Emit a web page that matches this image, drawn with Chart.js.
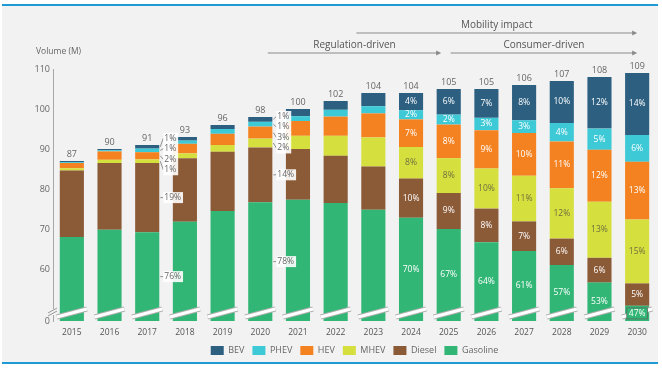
<!DOCTYPE html>
<html>
<head>
<meta charset="utf-8">
<script src="https://cdn.jsdelivr.net/npm/chart.js@4.4.1/dist/chart.umd.min.js"></script>
<style>
  html, body { margin: 0; padding: 0; background: #fff; }
  #wrap { position: relative; width: 662px; height: 369px; }
  #panel {
    position: absolute; left: 2px; top: 4px; width: 656px; height: 360px;
    box-sizing: border-box; background: #f2f2f2;
    border-top: 2px solid #1e9ad6; border-bottom: 2px solid #1e9ad6;
  }
  canvas { position: absolute; left: 0; top: 0; }
</style>
</head>
<body>
<div id="wrap">
  <div id="panel"></div>
  <canvas id="chart" width="662" height="369"></canvas>
</div>
<script>
// Powertrain mix, volume in millions
const years = ["2015", "2016", "2017", "2018", "2019", "2020", "2021", "2022",
  "2023", "2024", "2025", "2026", "2027", "2028", "2029", "2030"];
const totals = [87, 90, 91, 93, 96, 98, 100, 102, 104, 104, 105, 105, 106, 107, 108, 109];

const bev = [0.3, 0.3, 0.9, 0.9, 1.0, 1.2, 1.8, 2.2, 3.3, 4.3, 6.4, 7.2, 8.8, 10.5, 12.9, 15.5];
const phev = [0.2, 0.3, 0.9, 0.8, 1.2, 1.2, 1.2, 1.7, 1.8, 2.3, 2.5, 3.1, 3.2, 4.6, 5.3, 6.7];
const hev = [1.3, 2.1, 1.8, 2.4, 2.8, 3.0, 3.7, 4.8, 6.0, 6.9, 8.4, 9.6, 10.7, 11.7, 13.0, 14.4];
const mhev = [0.6, 0.8, 0.9, 1.2, 1.7, 2.2, 3.3, 5.0, 7.3, 7.9, 8.7, 10.0, 11.4, 12.6, 14.0, 16.0];
const diesel = [16.6, 16.7, 17.3, 15.9, 14.8, 13.7, 12.7, 11.8, 10.8, 9.8, 9.0, 8.4, 7.4, 6.6, 6.2, 5.6];
const gasoline = [68.0, 69.8, 69.2, 71.8, 74.5, 76.7, 77.3, 76.5, 74.8, 72.8, 70.0, 66.7, 64.5, 61.0, 56.6, 50.8];

// share labels (%) printed on the chart, null = not printed
const shareBev = [null, null, 1, null, null, 1, null, null, null, 4, 6, 7, 8, 10, 12, 14];
const sharePhev = [null, null, 1, null, null, 1, null, null, null, 2, 2, 3, 3, 4, 5, 6];
const shareHev = [null, null, 2, null, null, 3, null, null, null, 7, 8, 9, 10, 11, 12, 13];
const shareMhev = [null, null, 1, null, null, 2, null, null, null, 8, 8, 10, 11, 12, 13, 15];
const shareDiesel = [null, null, 19, null, null, 14, null, null, null, 10, 9, 8, 7, 6, 6, 5];
const shareGasoline = [null, null, 76, null, null, 78, null, null, null, 70, 67, 64, 61, 57, 53, 47];
const calloutYears = ["2017", "2020"];

// broken y axis: everything under 47 is cut, bottom shown as 0
const axisBreakValue = 47;
const yTicks = [47, 60, 70, 80, 90, 100, 110];

const phases = [
  { text: "Mobility impact", from: 7.55, to: 15.0, row: 0 },
  { text: "Regulation-driven", from: 5.2, to: 9.8, row: 1 },
  { text: "Consumer-driven", from: 10.05, to: 15.0, row: 1 },
];

const FONT = "'Open Sans', sans-serif";
Chart.defaults.font.family = FONT;

// bottom to top
const series = [
  { label: "Gasoline", data: gasoline, shares: shareGasoline, color: "#31b675", text: "#ffffff" },
  { label: "Diesel", data: diesel, shares: shareDiesel, color: "#8b5a37", text: "#ffffff" },
  { label: "MHEV", data: mhev, shares: shareMhev, color: "#d5df3d", text: "#6f7040" },
  { label: "HEV", data: hev, shares: shareHev, color: "#f58220", text: "#ffffff" },
  { label: "PHEV", data: phev, shares: sharePhev, color: "#3ec9d6", text: "#ffffff" },
  { label: "BEV", data: bev, shares: shareBev, color: "#2c5f80", text: "#ffffff" },
];

const decorations = {
  id: "decorations",
  afterDatasetsDraw(chart) {
    const { ctx, chartArea } = chart;
    const metas = series.map((s, d) => chart.getDatasetMeta(d));
    const bottom = chartArea.bottom;
    ctx.save();

    // break marks across bars
    metas[0].data.forEach((el) => {
      const l = el.x - el.width / 2 - 3;
      const r = el.x + el.width / 2 + 3;
      ctx.beginPath();
      ctx.moveTo(l, bottom - 4);
      ctx.lineTo(r, bottom - 12);
      ctx.strokeStyle = "#b0b0b0";
      ctx.lineWidth = 5;
      ctx.stroke();
      ctx.strokeStyle = "#ffffff";
      ctx.lineWidth = 3;
      ctx.stroke();
    });

    // totals
    ctx.font = "9px " + FONT;
    ctx.textAlign = "center";
    ctx.textBaseline = "middle";
    ctx.fillStyle = "#666";
    metas[metas.length - 1].data.forEach((el, i) => {
      ctx.fillText(String(totals[i]), el.x, el.y - 6.5);
    });

    // share labels
    ctx.font = "8.5px " + FONT;
    years.forEach((yr, i) => {
      const callout = calloutYears.includes(yr);
      if (!callout) {
        series.forEach((s, d) => {
          if (s.shares[i] == null) return;
          const el = metas[d].data[i];
          const cy = (el.y + Math.min(el.base, bottom)) / 2;
          const txt = s.shares[i] + "%";
          if (el.base > bottom && bottom - el.y < 18) {
            // segment mostly cut by the axis break: label gets its own patch
            const w = ctx.measureText(txt).width;
            ctx.fillStyle = s.color;
            ctx.fillRect(el.x - w / 2 - 2, cy - 5.5, w + 4, 11);
            ctx.strokeStyle = "#5a6a60";
            ctx.lineWidth = 0.8;
            ctx.strokeRect(el.x - w / 2 - 2, cy - 5.5, w + 4, 11);
          }
          ctx.textAlign = "center";
          ctx.fillStyle = s.text;
          ctx.fillText(txt, el.x, cy);
        });
        return;
      }
      const first = metas[0].data[i];
      const right = first.x + first.width / 2;
      ctx.textAlign = "left";
      const drawTag = (txt, segY, labY) => {
        ctx.beginPath();
        ctx.moveTo(right + 1, segY);
        ctx.lineTo(right + 4, labY);
        ctx.strokeStyle = "#777";
        ctx.lineWidth = 0.8;
        ctx.stroke();
        const w = ctx.measureText(txt).width;
        ctx.fillStyle = "rgba(255,255,255,0.9)";
        ctx.fillRect(right + 4, labY - 5.5, w + 3, 11);
        ctx.fillStyle = "#666";
        ctx.fillText(txt, right + 5, labY);
      };
      // gasoline + diesel: straight next to the segment
      [0, 1].forEach((d) => {
        const el = metas[d].data[i];
        const cy = (el.y + Math.min(el.base, bottom)) / 2;
        drawTag(series[d].shares[i] + "%", cy, cy);
      });
      // small segments fanned out
      const groupTop = metas[5].data[i].y;
      const groupBottom = metas[2].data[i].base;
      const mid = (groupTop + groupBottom) / 2;
      [5, 4, 3, 2].forEach((d, k) => {
        const el = metas[d].data[i];
        const cy = (el.y + el.base) / 2;
        drawTag(series[d].shares[i] + "%", cy, mid + (k - 1.5) * 10.5);
      });
    });
    ctx.restore();
  },
  afterDraw(chart) {
    const { ctx, chartArea, scales } = chart;
    const x = scales.x;
    ctx.save();

    // y axis break
    const ax = chartArea.left;
    const b = chartArea.bottom;
    ctx.fillStyle = "#f2f2f2";
    ctx.fillRect(ax - 2, b - 12, 4, 6);
    ctx.strokeStyle = "#999";
    ctx.lineWidth = 1;
    ctx.beginPath();
    ctx.moveTo(ax - 5, b - 5); ctx.lineTo(ax + 4, b - 10);
    ctx.moveTo(ax - 5, b - 8); ctx.lineTo(ax + 4, b - 13);
    ctx.stroke();

    // y title
    ctx.font = "8.5px " + FONT;
    ctx.fillStyle = "#666";
    ctx.textAlign = "left";
    ctx.textBaseline = "middle";
    ctx.fillText("Volume (M)", ax - 17, chartArea.top - 17);

    // phase arrows
    ctx.font = "10px " + FONT;
    ctx.textAlign = "center";
    phases.forEach((p) => {
      const x1 = x.getPixelForValue(p.from);
      const x2 = x.getPixelForValue(p.to);
      const ly = chartArea.top - (p.row === 0 ? 36 : 16);
      ctx.strokeStyle = "#8a8a8a";
      ctx.lineWidth = 1.2;
      ctx.beginPath();
      ctx.moveTo(x1, ly);
      ctx.lineTo(x2 - 4, ly);
      ctx.stroke();
      ctx.fillStyle = "#8a8a8a";
      ctx.beginPath();
      ctx.moveTo(x2, ly);
      ctx.lineTo(x2 - 5, ly - 2.5);
      ctx.lineTo(x2 - 5, ly + 2.5);
      ctx.closePath();
      ctx.fill();
      ctx.fillStyle = "#555";
      ctx.fillText(p.text, (x1 + x2) / 2, ly - 7.5);
    });
    ctx.restore();
  },
};

new Chart(document.getElementById("chart"), {
  type: "bar",
  data: {
    labels: years,
    datasets: series.map((s) => ({
      label: s.label,
      data: s.data,
      backgroundColor: s.color,
      borderWidth: 0,
      clip: 0,
      barPercentage: 0.64,
      categoryPercentage: 1,
    })),
  },
  options: {
    responsive: false,
    animation: false,
    layout: { padding: { top: 69, right: 6, left: 0, bottom: 4 } },
    plugins: {
      tooltip: { enabled: false },
      legend: {
        position: "bottom",
        fullSize: false,
        reverse: true,
        labels: {
          boxWidth: 13,
          boxHeight: 9,
          padding: 8,
          color: "#666",
          font: { size: 9 },
        },
      },
    },
    scales: {
      x: {
        stacked: true,
        grid: { display: false, drawTicks: false },
        border: { display: false },
        ticks: { color: "#555", font: { size: 8.5 }, padding: 6 },
        afterFit: (s) => { s.height = 17; },
      },
      y: {
        stacked: true,
        min: axisBreakValue,
        max: 110,
        grid: { display: false, drawTicks: false },
        border: { display: true, color: "#a8a8a8", width: 1 },
        afterBuildTicks: (s) => { s.ticks = yTicks.map((v) => ({ value: v })); },
        ticks: {
          color: "#666",
          font: { size: 9 },
          padding: 3,
          callback: (v) => (v === axisBreakValue ? "0" : v),
        },
        afterFit: (s) => { s.width = 53; },
      },
    },
  },
  plugins: [decorations],
});
</script>
</body>
</html>
